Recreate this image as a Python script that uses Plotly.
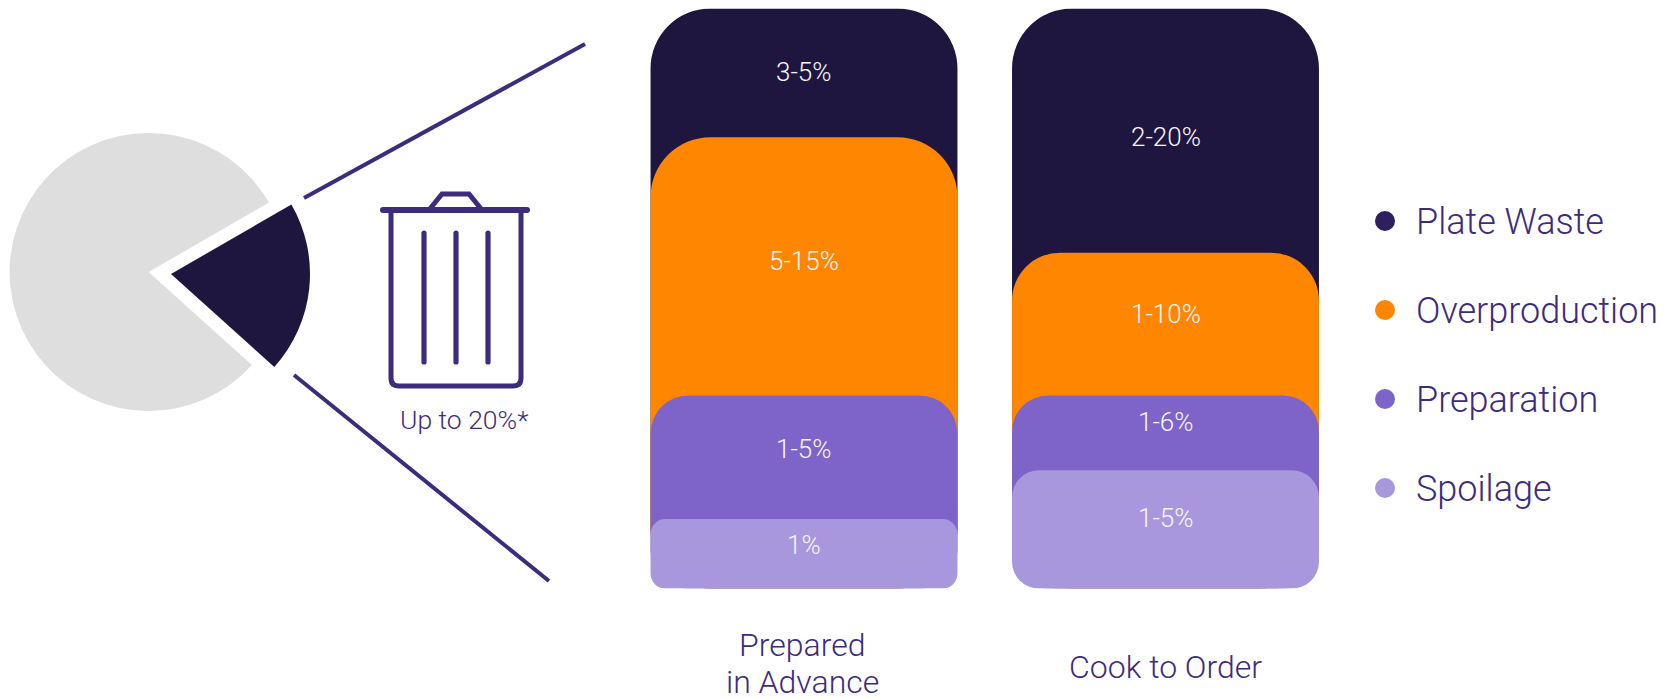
import plotly.graph_objects as go

# Food waste shares and breakdown by kitchen approach
WIDTH, HEIGHT = 1672, 698
INK = "#3D2C7C"

pie_labels = ["Food waste", "Other food purchased"]
pie_values = [20, 80]

columns = ["Prepared in Advance", "Cook to Order"]
column_titles = [["Prepared", "in Advance"], ["Cook to Order"]]
series = ["Plate Waste", "Overproduction", "Preparation", "Spoilage"]
colors = ["#1F1640", "#FF8600", "#7E63C9", "#A897DC"]
legend_colors = ["#2E1F5E", "#FF8600", "#7E63C9", "#A897DC"]

# Visible share of each column, read top to bottom (percent of column height)
plate_waste = [22.2, 42.1]
overproduction = [44.5, 24.6]
preparation = [21.3, 12.9]
spoilage = [12.0, 20.4]
segments = [plate_waste, overproduction, preparation, spoilage]

value_labels = [["3-5%", "2-20%"], ["5-15%", "1-10%"], ["1-5%", "1-6%"], ["1%", "1-5%"]]

# Styling per layer and column
corner_radii = [[60, 60], [60, 48], [38, 36], [15, 27]]
label_rows = [[72, 137], [261, 314], [449, 422], [545, 518]]
legend_rows = [221, 310, 399, 488]
title_rows = [[645, 682], [667]]
title_shifts = [-2, 0]

fig = go.Figure()

# Pie: the grey remainder and the detached wedge are separate traces
PIE_R = 139
def pie_domain(cx, cy, r=PIE_R):
    return dict(x=[(cx - r) / WIDTH, (cx + r) / WIDTH], y=[1 - (cy + r) / HEIGHT, 1 - (cy - r) / HEIGHT])

common = dict(labels=pie_labels, values=pie_values, sort=False, direction="clockwise", rotation=60,
              textinfo="none", hoverinfo="label+percent", showlegend=False)
fig.add_trace(go.Pie(domain=pie_domain(148.6, 272), marker=dict(colors=["rgba(0,0,0,0)", "#DEDEDE"], line=dict(width=0)), **common))
fig.add_trace(go.Pie(domain=pie_domain(171, 274), marker=dict(colors=["#1F1640", "rgba(0,0,0,0)"], line=dict(width=0)), **common))

# Columns: overlaid layers, each reaching down to the baseline
cumulative = [[0, 0] for _ in series]
for col in range(2):
    running = 0
    for i in reversed(range(len(series))):
        running += segments[i][col]
        cumulative[i][col] = running

for i, name in enumerate(series):
    for col, column in enumerate(columns):
        fig.add_trace(go.Bar(
            x=[column], y=[cumulative[i][col]], base=[0], name=name,
            marker=dict(color=colors[i], cornerradius=corner_radii[i][col], line=dict(width=0)),
            showlegend=False, xaxis="x", yaxis="y",
        ))

# Legend dots drawn on the full-page pixel axes
fig.add_trace(go.Scatter(
    x=[1385] * len(series), y=legend_rows, mode="markers", xaxis="x2", yaxis="y2",
    marker=dict(size=20, color=legend_colors, line=dict(width=0)),
    hovertext=series, hoverinfo="text", showlegend=False,
))

annotations = []
light = dict(family="Roboto", weight=300)
for i in range(len(series)):
    for col, column in enumerate(columns):
        annotations.append(dict(x=column, xref="x", y=label_rows[i][col], yref="y2", text=value_labels[i][col],
                                showarrow=False, xanchor="center", yanchor="middle",
                                font=dict(size=26, color="#F7F5FC", **light)))
for name, row in zip(series, legend_rows):
    annotations.append(dict(x=1414, xref="x2", y=row + 1, yref="y2", text=name, showarrow=False,
                            xanchor="left", yanchor="middle", font=dict(size=36, color=INK, **light)))
for column, lines, rows, shift in zip(columns, column_titles, title_rows, title_shifts):
    for line, row in zip(lines, rows):
        annotations.append(dict(x=column, xref="x", y=row, yref="y2", text=line, showarrow=False, xshift=shift,
                                xanchor="center", yanchor="middle", font=dict(size=32, color=INK, **light)))
annotations.append(dict(x=464, xref="x2", y=419, yref="y2", text="Up to 20%*", showarrow=False,
                        xanchor="center", yanchor="middle", font=dict(size=26.5, color=INK, **light)))

# Callout rays and the bin icon, in page pixels
def stroke(path, width=4.5):
    return dict(type="path", path=path, xref="x2", yref="y2", line=dict(color=INK, width=width), layer="above")

def capsule(x0, y0, x1, y1, r=2.6):
    # Straight stroke with rounded ends, drawn as a filled outline
    if x0 == x1:
        path = (f"M{x0 - r},{y0} Q{x0 - r},{y0 - r} {x0},{y0 - r} Q{x0 + r},{y0 - r} {x0 + r},{y0} "
                f"L{x0 + r},{y1} Q{x0 + r},{y1 + r} {x0},{y1 + r} Q{x0 - r},{y1 + r} {x0 - r},{y1} Z")
    else:
        path = (f"M{x0},{y0 - r} Q{x0 - r},{y0 - r} {x0 - r},{y0} Q{x0 - r},{y0 + r} {x0},{y0 + r} "
                f"L{x1},{y1 + r} Q{x1 + r},{y1 + r} {x1 + r},{y1} Q{x1 + r},{y1 - r} {x1},{y1 - r} Z")
    return dict(type="path", path=path, xref="x2", yref="y2", fillcolor=INK, line=dict(width=0), layer="above")

shapes = [
    stroke("M304,198 L585,44", 4),
    stroke("M294,375 L549,581", 4),
    capsule(383, 210, 527, 210, 3),
    stroke("M391,210 L391,378 Q391,386 399,386 L513,386 Q521,386 521,378 L521,210", 5),
    stroke("M429,210 L442,194 L469,194 L482,210", 5),
    capsule(424, 233, 424, 362),
    capsule(456, 233, 456, 362),
    capsule(488, 233, 488, 362),
]

fig.update_layout(
    width=WIDTH, height=HEIGHT, margin=dict(l=0, r=0, t=0, b=0, pad=0), autosize=False,
    paper_bgcolor="white", plot_bgcolor="rgba(0,0,0,0)", barmode="overlay", bargap=0.151,
    showlegend=False, annotations=annotations, shapes=shapes,
    xaxis=dict(domain=[623.25 / WIDTH, 1346.25 / WIDTH], type="category", categoryorder="array", categoryarray=columns,
               range=[-0.5, 1.5], visible=False, fixedrange=True),
    yaxis=dict(domain=[1 - 588.6 / HEIGHT, 1 - 8.5 / HEIGHT], range=[0, 100], visible=False, fixedrange=True),
    xaxis2=dict(domain=[0, 1], range=[0, WIDTH], visible=False, fixedrange=True, anchor="y2"),
    yaxis2=dict(domain=[0, 1], range=[HEIGHT, 0], visible=False, fixedrange=True, anchor="x2"),
)

fig.write_html("out.html", config=dict(displayModeBar=False))
